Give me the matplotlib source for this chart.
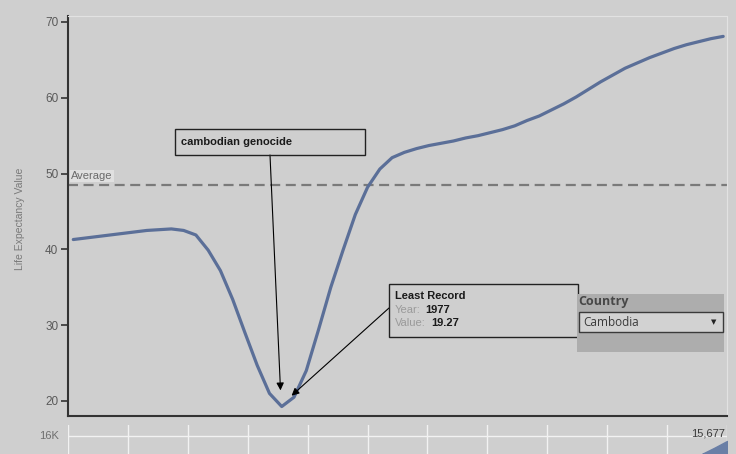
import matplotlib
matplotlib.use("Agg")
import matplotlib.pyplot as plt
from matplotlib.patches import Rectangle, Polygon
import numpy as np

# ---------------- data ----------------
years = list(range(1960, 2014))
life_exp = [41.3, 41.5, 41.7, 41.9, 42.1, 42.3, 42.5, 42.6, 42.7, 42.5,
            41.9, 39.9, 37.2, 33.4, 29.0, 24.7, 21.0, 19.27, 20.5, 24.0,
            29.4, 35.0, 39.9, 44.6, 48.2, 50.6, 52.1, 52.8, 53.3, 53.7,
            54.0, 54.3, 54.7, 55.0, 55.4, 55.8, 56.3, 57.0, 57.6, 58.4,
            59.2, 60.1, 61.1, 62.1, 63.0, 63.9, 64.6, 65.3, 65.9, 66.5,
            67.0, 67.4, 67.8, 68.1]
average_value = 48.5
y_ticks = [20, 30, 40, 50, 60, 70]
min_year = 1977
min_value = 19.27

pop_years = [2011, 2012, 2013]
pop_values = [14850, 15250, 15677]
pop_grid_value = 16000
pop_label = "16K"
pop_last_label = "15,677"
country = "Cambodia"

# ---------------- style ----------------
BG = "#cfcfcf"
LINE = "#5b6f98"
W, H = 736, 454

def fx(x):
    return x / W

def fy(y):
    return 1 - y / H

fig = plt.figure(figsize=(W / 100, H / 100), dpi=100)
fig.patch.set_facecolor(BG)
plt.rcParams['font.family'] = ['Liberation Sans', 'DejaVu Sans']

# main axes
ax = fig.add_axes([fx(68), fy(416), fx(727 - 68), (416 - 16) / H])
ax.set_facecolor(BG)
ax.plot(years, life_exp, color=LINE, lw=2.3, solid_capstyle='round', zorder=3)
ax.set_xlim(1959.57, 2013.31)
ax.set_ylim(18.02, 70.79)
ax.set_yticks(y_ticks)
ax.set_xticks([])
ax.tick_params(axis='y', length=5, width=1.2, color='#333333', labelcolor='#5a5a5a',
               labelsize=8.5, pad=2)
for s in ['left', 'bottom']:
    ax.spines[s].set_color('#333333')
    ax.spines[s].set_linewidth(1.5)
for s in ['top', 'right']:
    ax.spines[s].set_color('#e2e2e2')
    ax.spines[s].set_linewidth(0.8)

ax.axhline(average_value, color='#7a7a7a', lw=1.6, dashes=(4.5, 2.5), zorder=2)
ax.text(1959.85, average_value + 0.55, "Average", color='#6a6a6a', fontsize=8,
        va='bottom', ha='left',
        bbox=dict(boxstyle='square,pad=0.1', fc='#e4e4e4', ec='none', alpha=0.85))

fig.text(fx(20), fy(219), "Life Expectancy Value", rotation=90, color='#7a7a7a',
         fontsize=7.5, ha='center', va='center')

# annotation 1: cambodian genocide
fig.patches.append(Rectangle((fx(175), fy(155)), fx(365 - 175), (155 - 129) / H,
                             transform=fig.transFigure, fill=False, ec='#222222', lw=1.0))
fig.text(fx(181), fy(142), "cambodian genocide", fontsize=8, fontweight='bold',
         color='#1a1a1a', va='center', ha='left')
ax.annotate("", xy=(1976.9, 21.4), xycoords='data',
            xytext=(fx(270), fy(155)), textcoords='figure fraction',
            arrowprops=dict(arrowstyle='-|>', color='black', lw=0.8,
                            mutation_scale=11, shrinkA=0, shrinkB=0))

# annotation 2: least record
fig.patches.append(Rectangle((fx(389), fy(337)), fx(578 - 389), (337 - 284) / H,
                             transform=fig.transFigure, fill=False, ec='#222222', lw=1.0))
fig.text(fx(395), fy(296), "Least Record", fontsize=8, fontweight='bold',
         color='#1a1a1a', va='center', ha='left')
fig.text(fx(395), fy(310), "Year:", fontsize=8, color='#9a9a9a', va='center', ha='left')
fig.text(fx(425), fy(310), str(min_year), fontsize=8, fontweight='bold',
         color='#1a1a1a', va='center', ha='left')
fig.text(fx(395), fy(323), "Value:", fontsize=8, color='#9a9a9a', va='center', ha='left')
fig.text(fx(431), fy(323), f"{min_value:.2f}", fontsize=8, fontweight='bold',
         color='#1a1a1a', va='center', ha='left')
ax.annotate("", xy=(1977.8, 20.7), xycoords='data',
            xytext=(fx(389), fy(308)), textcoords='figure fraction',
            arrowprops=dict(arrowstyle='-|>', color='black', lw=0.8,
                            mutation_scale=11, shrinkA=0, shrinkB=0))

# Country panel
fig.patches.append(Rectangle((fx(577), fy(352)), fx(724 - 577), (352 - 294) / H,
                             transform=fig.transFigure, fc='#adadad', ec='none', zorder=5))
fig.patches.append(Rectangle((fx(579), fy(332)), fx(723 - 579), (332 - 312) / H,
                             transform=fig.transFigure, fc='#d2d2d2', ec='#3a3a3a',
                             lw=1.0, zorder=6))
fig.text(fx(578), fy(301), "Country", fontsize=9, fontweight='bold', color='#474747',
         family=['Open Sans', 'DejaVu Sans'], va='center', ha='left', zorder=7)
fig.text(fx(583), fy(322), country, fontsize=8.5, color='#3a3a3a',
         family=['Open Sans', 'DejaVu Sans'], va='center', ha='left', zorder=7)
fig.text(fx(714), fy(322), "\u25bc", fontsize=5, color='#222222',
         family=['DejaVu Sans'], va='center', ha='center', zorder=7)

# brush axes
bx = fig.add_axes([fx(68), 0, fx(727 - 68), (454 - 425) / H])
bx.set_facecolor(BG)
bx.set_xlim(1960, 2013)
bx.set_ylim(14837, 16711)
for s in bx.spines.values():
    s.set_visible(False)
bx.set_xticks(np.linspace(1960, 2013, 12))
bx.set_yticks([pop_grid_value])
bx.grid(True, color='#f2f2f2', lw=1.0)
bx.tick_params(length=0, labelbottom=False, labelleft=False)
bx.fill_between(pop_years, 14837, pop_values, color='#6a7fa6', zorder=3)
fig.text(fx(59), fy(436), pop_label, fontsize=8, color='#6e6e6e', ha='right', va='center')
fig.text(fx(725), fy(433), pop_last_label, fontsize=8, color='#3a3a3a', ha='right',
         va='center')

fig.savefig("out.png", dpi=100, facecolor=BG)
